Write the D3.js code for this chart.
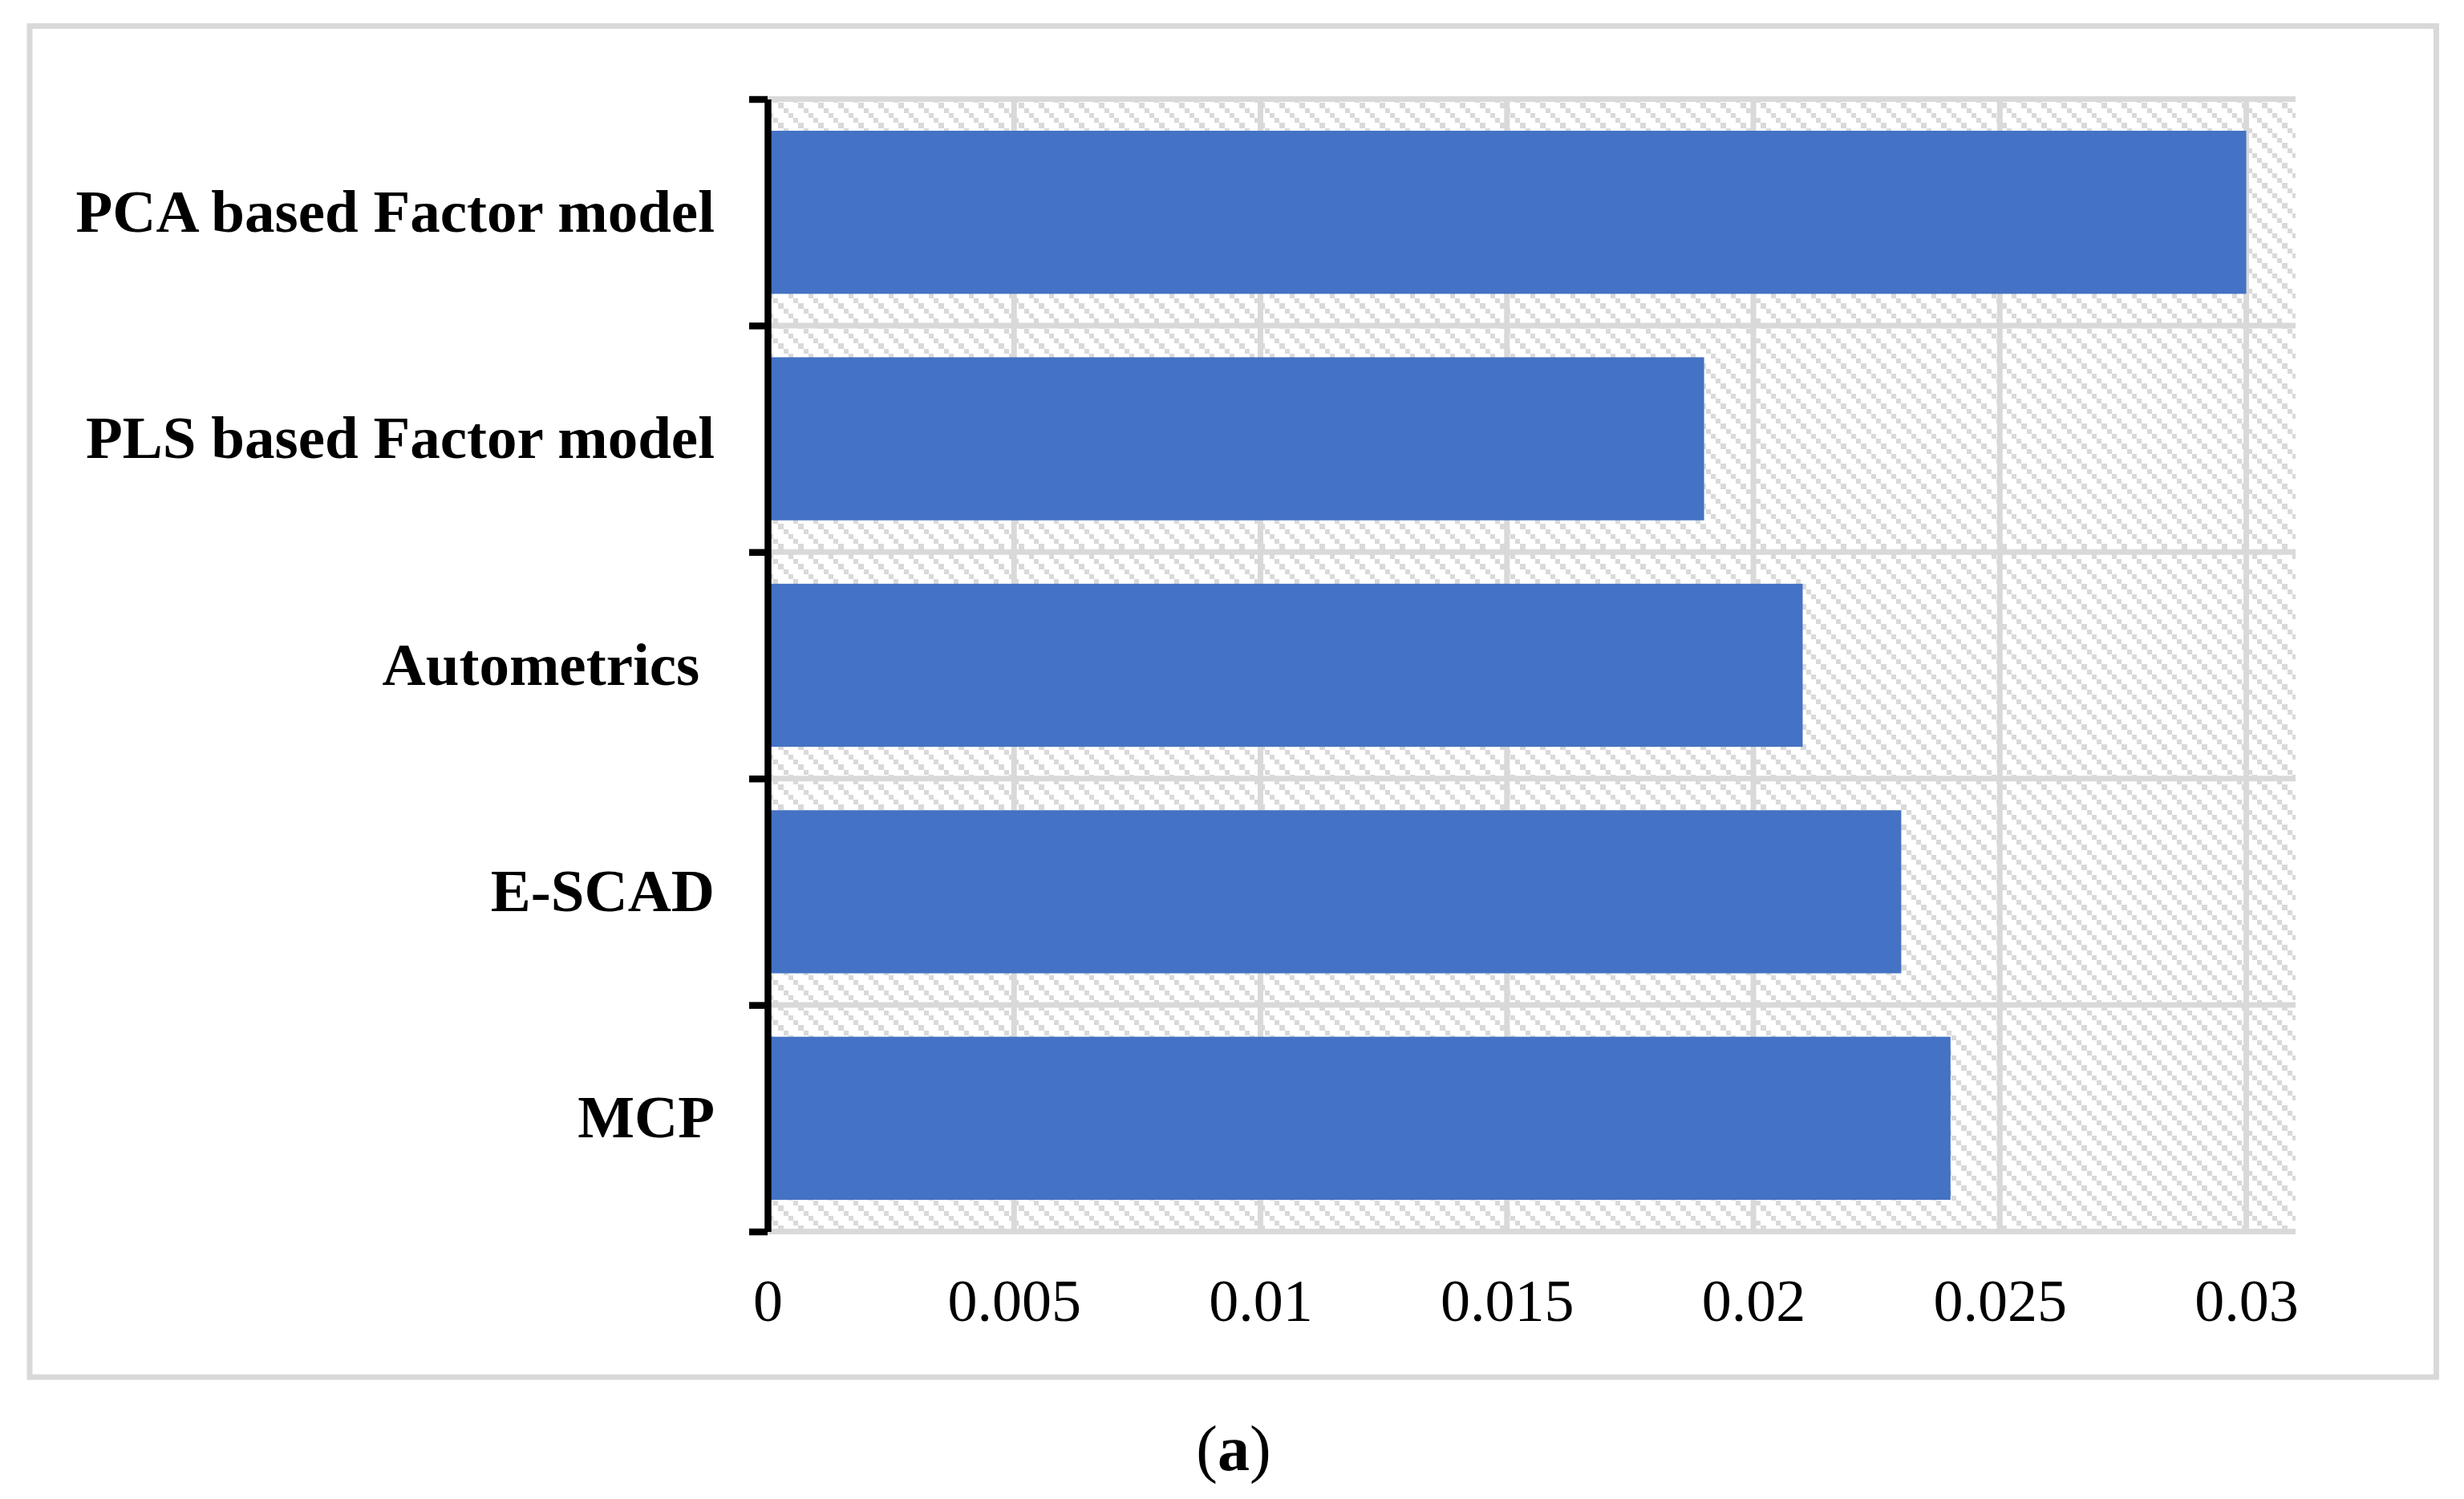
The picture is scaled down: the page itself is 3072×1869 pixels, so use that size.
<!DOCTYPE html>
<html>
<head>
<meta charset="utf-8">
<script src="https://cdn.jsdelivr.net/npm/d3@7"></script>
<style>
    body { margin: 0; background: #fff; }
    text { font-family: "Liberation Serif", "Times New Roman", serif; fill: #000; }
</style>
</head>
<body>
<div id="chart"></div>
<script>
// data
const categories = ["PCA based Factor model", "PLS based Factor model", "Autometrics ", "E-SCAD", "MCP"]
const values = [0.030, 0.019, 0.021, 0.023, 0.024]
const xTicks = [0, 0.005, 0.01, 0.015, 0.02, 0.025, 0.03]
const xTickLabels = ["0", "0.005", "0.01", "0.015", "0.02", "0.025", "0.03"]
const caption = "a"

const width = 3072
const height = 1869
const margin = {
    top: 123.5,
    bottom: 333.5,
    right: 210,
    left: 957
}
const innerW = width - margin.left - margin.right
const innerH = height - margin.top - margin.bottom
const grey = "#d9d9d9"

const svg = d3.select("div#chart").append("svg").attr("width", width).attr("height", height)

// pattern fill for the plot area (light downward diagonal)
const cell = 6.25
const pattern = svg.append("defs").append("pattern")
    .attr("id", "hatch")
    .attr("patternUnits", "userSpaceOnUse")
    .attr("width", cell * 4).attr("height", cell * 4)
    .attr("x", margin.left).attr("y", margin.top)
pattern.selectAll("rect").data(d3.range(4)).join("rect")
    .attr("x", d => d * cell).attr("y", d => d * cell)
    .attr("width", cell).attr("height", cell)
    .attr("fill", grey)
    .attr("shape-rendering", "crispEdges")

// outer frame
svg.append("rect")
    .attr("x", 37).attr("y", 32.5)
    .attr("width", 3000.5).attr("height", 1684.5)
    .attr("fill", "none").attr("stroke", grey).attr("stroke-width", 7)

const elementGroup = svg.append("g").attr("transform", `translate(${margin.left}, ${margin.top})`)

const x = d3.scaleLinear().domain([0, 0.031]).range([0, innerW])
const y = d3.scaleBand().domain(categories).range([0, innerH]).paddingInner(0.28).paddingOuter(0.14)
const yEdge = d3.scaleLinear().domain([0, categories.length]).range([0, innerH])

elementGroup.append("rect")
    .attr("width", innerW).attr("height", innerH)
    .attr("fill", "url(#hatch)")

// gridlines
elementGroup.append("g").selectAll("line").data(xTicks).join("line")
    .attr("x1", d => x(d)).attr("x2", d => x(d))
    .attr("y1", 0).attr("y2", innerH)
    .attr("stroke", grey).attr("stroke-width", 7)
elementGroup.append("g").selectAll("line").data(d3.range(categories.length + 1)).join("line")
    .attr("x1", 0).attr("x2", innerW)
    .attr("y1", d => yEdge(d)).attr("y2", d => yEdge(d))
    .attr("stroke", grey).attr("stroke-width", 7)

// bars
elementGroup.selectAll("rect.bar").data(categories).join("rect")
    .attr("class", "bar")
    .attr("x", 0)
    .attr("y", d => y(d))
    .attr("width", (d, i) => x(values[i]))
    .attr("height", y.bandwidth())
    .attr("fill", "#4472c4")

// y axis: thick black line with ticks between categories
const yAxis = d3.axisLeft(yEdge).ticks(categories.length).tickSize(23).tickSizeOuter(0).tickFormat("")
const yAxisGroup = elementGroup.append("g").call(yAxis)
yAxisGroup.selectAll("path, line").attr("stroke", "#000").attr("stroke-width", 8.5)

// category labels
elementGroup.append("g").selectAll("text").data(categories).join("text")
    .attr("x", -66)
    .attr("y", d => y(d) + y.bandwidth() / 2)
    .attr("dy", "0.32em")
    .attr("text-anchor", "end")
    .style("white-space", "pre")
    .attr("font-size", 75)
    .attr("font-weight", "bold")
    .text(d => d)

// x axis labels only
const xAxis = d3.axisBottom(x).tickValues(xTicks).tickSize(0).tickFormat((d, i) => xTickLabels[i])
const xAxisGroup = elementGroup.append("g").attr("transform", `translate(0, ${innerH})`).call(xAxis)
xAxisGroup.select(".domain").remove()
xAxisGroup.selectAll("text")
    .attr("y", 111.5).attr("dy", 0)
    .attr("font-size", 74)
    .attr("font-family", null)

// caption
const cap = svg.append("text")
    .attr("x", 1538).attr("y", 1833)
    .attr("text-anchor", "middle")
    .attr("font-size", 80)
cap.append("tspan").text("(")
cap.append("tspan").attr("font-weight", "bold").text(caption)
cap.append("tspan").text(")")
</script>
</body>
</html>
